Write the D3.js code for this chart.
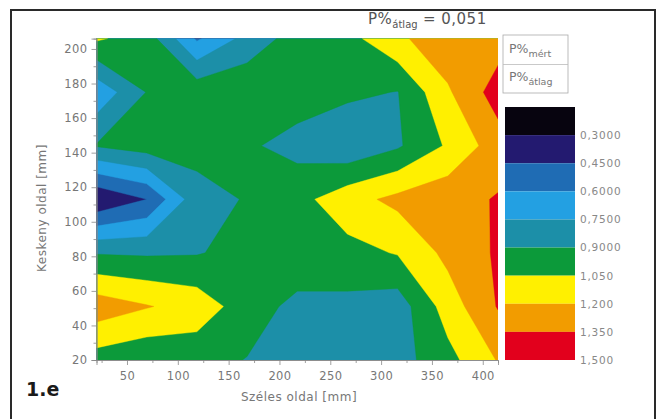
<!DOCTYPE html>
<html>
<head>
<meta charset="utf-8">
<script src="https://cdn.jsdelivr.net/npm/d3@7"></script>
<style>
  body { margin: 0; background: #fff; }
  svg { display: block; }
  text { font-family: "DejaVu Sans", sans-serif; }
</style>
</head>
<body>
<svg id="chart" width="659" height="419"></svg>
<script>
// Measurement grid: columns along the wide side, rows along the narrow side (mm)
const xCoords = [20, 69.4, 118.8, 168.1, 217.5, 266.9, 316.3, 365.6, 415];
const yCoords = [20, 51, 82, 113, 144, 175, 206];

// Relative P% at each grid point, one row per yCoords entry (bottom row first)
const row20  = [0.98, 0.93, 0.95, 0.895, 0.77, 0.80, 0.84, 1.00, 1.21];
const row51  = [1.29, 1.21, 1.14, 0.97, 0.86, 0.86, 0.82, 1.12, 1.36];
const row82  = [0.89, 0.88, 0.89, 0.95, 1.00, 1.00, 1.06, 1.24, 1.37];
const row113 = [0.31, 0.45, 0.845, 0.91, 1.00, 1.143, 1.24, 1.30, 1.36];
const row144 = [0.91, 0.97, 0.95, 0.92, 0.85, 0.78, 0.88, 1.07, 1.28];
const row175 = [0.64, 0.905, 1.00, 1.02, 0.97, 0.93, 0.895, 1.18, 1.42];
const row206 = [1.07, 0.98, 0.58, 0.80, 0.97, 1.00, 1.17, 1.30, 1.28];
const zRows = [row20, row51, row82, row113, row144, row175, row206];

// Contour levels and their fills (lowest band first)
const levels = [0.15, 0.30, 0.45, 0.60, 0.75, 0.90, 1.05, 1.20, 1.35, 1.50];
const levelColors = ["#07040f", "#231a70", "#1f6cb4", "#23a0e2", "#1c8fa8",
                     "#0c9a3a", "#fff000", "#f29c00", "#e2001c"];
const levelLabels = ["0,3000", "0,4500", "0,6000", "0,7500", "0,9000",
                     "1,050", "1,200", "1,350", "1,500"];

const xTicks = [50, 100, 150, 200, 250, 300, 350, 400];
const yTicks = [20, 40, 60, 80, 100, 120, 140, 160, 180, 200];

const svg = d3.select("#chart");

// Outer frame
svg.append("rect")
  .attr("x", 11).attr("y", 10).attr("width", 644).attr("height", 420)
  .attr("fill", "none").attr("stroke", "#2a2a2a").attr("stroke-width", 2);

const plot = { left: 96.5, right: 498, top: 38.6, bottom: 360 };
const xScale = d3.scaleLinear().domain([20, 415]).range([plot.left, plot.right]);
const yScale = d3.scaleLinear().domain([20, 206]).range([plot.bottom, plot.top]);

// Grid index space -> data space (d3.contours puts sample i at i + 0.5)
const ix = d3.scaleLinear().domain([0.5, xCoords.length - 0.5])
  .range([xCoords[0], xCoords[xCoords.length - 1]]);
const iy = d3.scaleLinear().domain([0.5, yCoords.length - 0.5])
  .range([yCoords[0], yCoords[yCoords.length - 1]]);

const values = zRows.flat();
const contours = d3.contours()
  .size([xCoords.length, yCoords.length])
  .thresholds(levels.slice(0, levelColors.length))(values);

const projection = d3.geoTransform({
  point: function (x, y) { this.stream.point(xScale(ix(x)), yScale(iy(y))); }
});
const path = d3.geoPath(projection);

svg.append("clipPath").attr("id", "plot-clip")
  .append("rect")
  .attr("x", plot.left).attr("y", plot.top)
  .attr("width", plot.right - plot.left).attr("height", plot.bottom - plot.top);

svg.append("g").attr("clip-path", "url(#plot-clip)")
  .selectAll("path")
  .data(contours)
  .join("path")
  .attr("d", path)
  .attr("fill", (d, i) => levelColors[i])
  .attr("stroke", (d, i) => levelColors[i])
  .attr("stroke-width", 0.4);

// Axes
const axisColor = "#888";
const labelColor = "#777";

const xAxis = svg.append("g").attr("transform", `translate(0,${plot.bottom})`)
  .call(d3.axisBottom(xScale).tickValues(xTicks).tickSize(5).tickPadding(7));
const xMinor = svg.append("g").attr("transform", `translate(0,${plot.bottom})`)
  .call(d3.axisBottom(xScale).tickValues(d3.range(25, 415, 50)).tickSize(3).tickFormat(""));
const yAxis = svg.append("g").attr("transform", `translate(${plot.left},0)`)
  .call(d3.axisLeft(yScale).tickValues(yTicks).tickSize(5).tickPadding(4));
const yMinor = svg.append("g").attr("transform", `translate(${plot.left},0)`)
  .call(d3.axisLeft(yScale).tickValues(d3.range(30, 206, 20)).tickSize(3).tickFormat(""));

[xAxis, xMinor, yAxis, yMinor].forEach(g => {
  g.selectAll("path").attr("stroke", axisColor).attr("stroke-width", 0.8);
  g.selectAll("line").attr("stroke", axisColor).attr("stroke-width", 0.8);
  g.selectAll("text").attr("fill", labelColor).attr("font-size", 11.5)
    .attr("letter-spacing", 0.4)
    .attr("font-family", "DejaVu Sans, sans-serif");
});

// Axis titles
svg.append("text")
  .attr("x", 299).attr("y", 401).attr("text-anchor", "middle")
  .attr("font-size", 12).attr("letter-spacing", 0.5).attr("fill", labelColor)
  .text("Széles oldal [mm]");
svg.append("text")
  .attr("transform", "translate(46,208) rotate(-90)")
  .attr("text-anchor", "middle")
  .attr("font-size", 12).attr("letter-spacing", 0.5).attr("fill", labelColor)
  .text("Keskeny oldal [mm]");

// Title with subscript
const title = svg.append("text")
  .attr("x", 368).attr("y", 24)
  .attr("font-size", 15).attr("letter-spacing", 0.5).attr("fill", "#555")
  .attr("font-family", "Liberation Sans, Arial, sans-serif");
title.append("tspan").text("P%");
title.append("tspan").attr("font-size", 10).attr("dy", 4).attr("letter-spacing", 0).text("átlag");
title.append("tspan").attr("dy", -4).text(" = 0,051");

// Legend box
const legend = svg.append("g");
legend.append("rect")
  .attr("x", 503).attr("y", 35).attr("width", 65).attr("height", 58)
  .attr("fill", "#fff").attr("stroke", "#aaa").attr("stroke-width", 0.8);
legend.append("line")
  .attr("x1", 503).attr("x2", 568).attr("y1", 64.5).attr("y2", 64.5)
  .attr("stroke", "#bbb").attr("stroke-width", 0.8);
[["mért", 53], ["átlag", 81]].forEach(([sub, y]) => {
  const t = legend.append("text").attr("x", 509).attr("y", y)
    .attr("font-size", 12.5).attr("fill", "#777")
    .attr("font-family", "Liberation Sans, Arial, sans-serif");
  t.append("tspan").text("P%");
  t.append("tspan").attr("font-size", 9.5).attr("dy", 4).text(sub);
});

// Colour scale bar
const cbScale = d3.scaleLinear().domain([levels[0], levels[levels.length - 1]]).range([107, 360]);
svg.append("g").selectAll("rect")
  .data(levelColors)
  .join("rect")
  .attr("x", 505).attr("width", 70)
  .attr("y", (d, i) => cbScale(levels[i]))
  .attr("height", (d, i) => cbScale(levels[i + 1]) - cbScale(levels[i]))
  .attr("fill", d => d);

const cbAxis = svg.append("g").attr("transform", "translate(575,0)")
  .call(d3.axisRight(cbScale).tickValues(levels.slice(1)).tickSize(0).tickPadding(5)
    .tickFormat((d, i) => levelLabels[i]));
cbAxis.select(".domain").remove();
cbAxis.selectAll("text").attr("fill", "#888").attr("font-size", 10.5)
  .attr("letter-spacing", 0.8)
  .attr("font-family", "DejaVu Sans, sans-serif");

// Panel label
svg.append("text")
  .attr("x", 26).attr("y", 396)
  .attr("font-size", 19).attr("font-weight", "bold").attr("fill", "#1a1a1a")
  .attr("font-family", "Roboto, 'DejaVu Sans', sans-serif")
  .text("1.e");
</script>
</body>
</html>
